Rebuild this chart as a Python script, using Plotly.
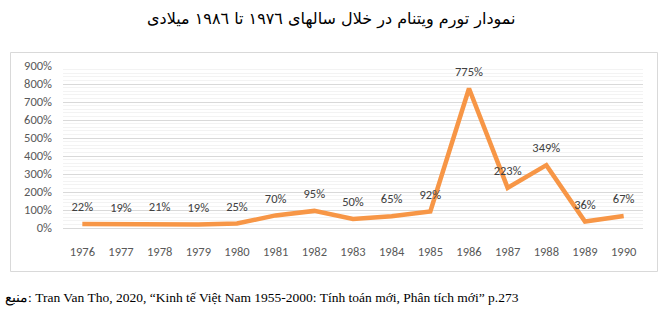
import plotly.graph_objects as go

years = ["1976", "1977", "1978", "1979", "1980", "1981", "1982", "1983",
         "1984", "1985", "1986", "1987", "1988", "1989", "1990"]
inflation = [22, 19, 21, 19, 25, 70, 95, 50, 65, 92, 775, 223, 349, 36, 67]
labels = [f"{v}%" for v in inflation]
y_ticks = [0, 100, 200, 300, 400, 500, 600, 700, 800, 900]
y_tick_text = [f"{v}%" for v in y_ticks]

title_text = "نمودار تورم ویتنام در خلال سالهای ١٩٧٦ تا ١٩٨٦ میلادی"
source_text = "منبع: Tran Van Tho, 2020, “Kinh tế Việt Nam 1955-2000: Tính toán mới, Phân tích mới” p.273"

W, H = 662, 328
L, R, T, B = 63, 643, 66, 228  # plot area in pixels


def px_x(px):
    return (px - L) / (R - L)


def px_y(py):
    return (B - py) / (B - T)


font_main = "Calibri, Carlito, Lato, sans-serif"

fig = go.Figure()
fig.add_trace(go.Scatter(
    x=years, y=inflation, mode="lines+markers+text",
    line=dict(color="#F79646", width=4.5),
    marker=dict(size=14, color="rgba(0,0,0,0)"),
    text=labels, textposition="top center",
    textfont=dict(family=font_main, size=12.5, color="#404040"),
    cliponaxis=False, hoverinfo="x+y", showlegend=False,
))

fig.update_layout(
    width=W, height=H,
    margin=dict(l=L, r=W - R, t=T, b=H - B, pad=0),
    paper_bgcolor="white", plot_bgcolor="white",
    xaxis=dict(
        type="category", range=[-0.5, 14.5],
        showgrid=False, zeroline=False, showline=False,
        ticks="", ticklabelstandoff=14,
        tickfont=dict(family=font_main, size=12.5, color="#595959"),
    ),
    yaxis=dict(
        range=[0, 900], tickvals=y_ticks, ticktext=y_tick_text,
        showgrid=True, gridcolor="#d9d9d9", gridwidth=1,
        zeroline=True, zerolinecolor="#d9d9d9", zerolinewidth=1,
        showline=False, ticks="", ticklabelstandoff=10,
        tickfont=dict(family=font_main, size=12.5, color="#595959"),
        minor=dict(dtick=20, showgrid=True, gridcolor="#f3f3f3", gridwidth=1),
    ),
    shapes=[dict(
        type="rect", xref="paper", yref="paper",
        x0=px_x(10.5), x1=px_x(657.5), y0=px_y(271.5), y1=px_y(52.5),
        line=dict(color="#d9d9d9", width=1), fillcolor="rgba(0,0,0,0)",
        layer="below",
    )],
    annotations=[
        dict(text=title_text, xref="paper", yref="paper",
             x=px_x(331), y=px_y(19), xanchor="center", yanchor="middle",
             showarrow=False,
             font=dict(family="DejaVu Sans, sans-serif", size=16, color="#000000")),
        dict(text=source_text, xref="paper", yref="paper",
             x=px_x(3), y=px_y(298), xanchor="left", yanchor="middle",
             showarrow=False,
             font=dict(family="Liberation Serif, Times New Roman, serif", size=13.5,
                       color="#000000")),
    ],
)

fig.write_html("out.html")
